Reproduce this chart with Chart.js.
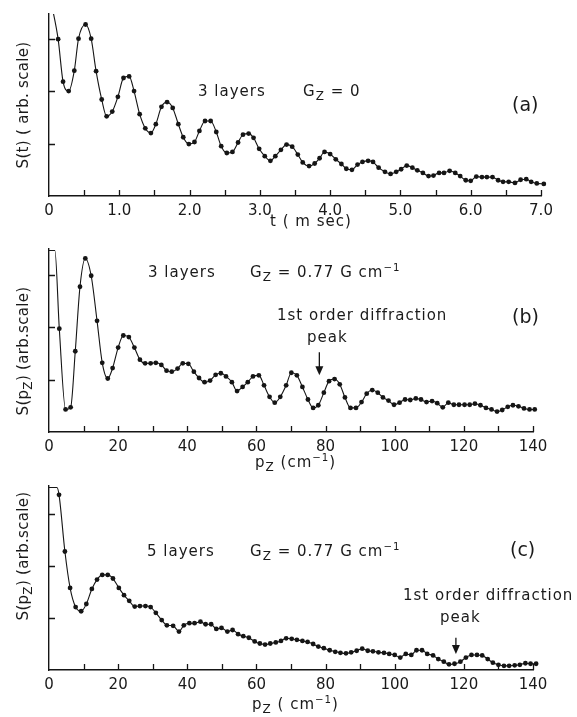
<!DOCTYPE html>
<html>
<head>
<meta charset="utf-8">
<title>S(t) and S(pz) – 3 and 5 layers</title>
<script src="https://cdn.jsdelivr.net/npm/chart.js@4.4.1/dist/chart.umd.min.js"></script>
<style>
  html, body { margin:0; padding:0; background:#fff; }
  #page { position:relative; width:577px; height:717px; overflow:hidden; font-family:'DejaVu Sans', sans-serif; color:#1a1a1a; }
  canvas { position:absolute; left:0; }
  .t { position:absolute; font-size:15px; line-height:15px; white-space:nowrap; letter-spacing:1px; }
  .big { font-size:19px; line-height:19px; letter-spacing:0; }
  .sub { font-size:0.8em; position:relative; top:0.35em; }
  .sup { font-size:0.68em; position:relative; top:-0.55em; }
  .rot { position:absolute; width:200px; height:18px; line-height:18px; font-size:15px; text-align:center; white-space:nowrap; letter-spacing:0.3px; transform:rotate(-90deg); }
</style>
</head>
<body>
<div id="page">
  <canvas id="chartA" width="577" height="240" style="top:0"></canvas>
  <canvas id="chartB" width="577" height="238" style="top:240px"></canvas>
  <canvas id="chartC" width="577" height="239" style="top:478px"></canvas>

  <!-- panel (a) -->
  <div class="rot" style="left:-77px;top:96px">S(t) ( arb. scale)</div>
  <div class="t" style="left:198px;top:84px">3 layers</div>
  <div class="t" style="left:303px;top:84px">G<span class="sub">Z</span> = 0</div>
  <div class="t big" style="left:512px;top:95px">(a)</div>
  <div class="t" style="left:270px;top:214px">t ( m sec)</div>

  <!-- panel (b) -->
  <div class="rot" style="left:-77px;top:342px">S(p<span class="sub">Z</span>) (arb.scale)</div>
  <div class="t" style="left:148px;top:265px">3 layers</div>
  <div class="t" style="left:250px;top:265px">G<span class="sub">Z</span> = 0.77 G cm<span class="sup">−1</span></div>
  <div class="t" style="left:277px;top:308px">1st order diffraction</div>
  <div class="t" style="left:307px;top:330px">peak</div>
  <div class="t big" style="left:512px;top:307px">(b)</div>
  <div class="t" style="left:255px;top:455px">p<span class="sub">Z</span> (cm<span class="sup">−1</span>)</div>

  <!-- panel (c) -->
  <div class="rot" style="left:-77px;top:547px">S(p<span class="sub">Z</span>) (arb.scale)</div>
  <div class="t" style="left:147px;top:544px">5 layers</div>
  <div class="t" style="left:250px;top:544px">G<span class="sub">Z</span> = 0.77 G cm<span class="sup">−1</span></div>
  <div class="t big" style="left:510px;top:540px">(c)</div>
  <div class="t" style="left:403px;top:588px">1st order diffraction</div>
  <div class="t" style="left:440px;top:610px">peak</div>
  <div class="t" style="left:252px;top:697px">p<span class="sub">Z</span> ( cm<span class="sup">−1</span>)</div>
</div>

<script>
/* ============ data ============ */
// (a) 3 layers, Gz = 0 : S(t) vs t (ms)
const leadTimeA   = [0.03];
const leadSignalA = [3.70];
const timeA = [0.13,0.20,0.28,0.36,0.42,0.52,0.60,0.67,0.75,0.82,0.90,0.98,1.06,1.14,1.21,1.29,1.37,1.45,1.52,1.60,
  1.68,1.76,1.84,1.91,1.99,2.07,2.14,2.22,2.30,2.38,2.45,2.53,2.61,2.69,2.76,2.84,2.91,2.99,3.07,3.15,
  3.22,3.30,3.38,3.46,3.54,3.61,3.70,3.78,3.85,3.92,4.00,4.08,4.16,4.23,4.31,4.39,4.46,4.54,4.61,4.69,
  4.78,4.86,4.94,5.01,5.09,5.17,5.24,5.32,5.40,5.47,5.55,5.62,5.70,5.78,5.85,5.93,6.00,6.08,6.16,6.23,
  6.31,6.39,6.46,6.54,6.63,6.71,6.79,6.86,6.94,7.04];
const signalA = [2.99,2.18,2.00,2.39,3.00,3.27,3.00,2.38,1.84,1.52,1.61,1.89,2.25,2.28,2.00,1.56,1.29,1.20,1.37,1.70,
  1.79,1.68,1.37,1.12,0.99,1.03,1.24,1.43,1.43,1.22,0.95,0.82,0.84,1.02,1.17,1.19,1.11,0.90,0.76,0.67,
  0.76,0.88,0.98,0.94,0.79,0.64,0.57,0.62,0.72,0.84,0.80,0.70,0.61,0.52,0.50,0.60,0.65,0.67,0.65,0.54,
  0.46,0.42,0.46,0.51,0.58,0.54,0.49,0.44,0.38,0.39,0.44,0.44,0.48,0.44,0.38,0.30,0.29,0.37,0.36,0.36,
  0.36,0.30,0.27,0.27,0.25,0.31,0.32,0.27,0.24,0.23];
const xTickLabelsA = ['0','1.0','2.0','3.0','4.0','5.0','6.0','7.0'];

// (b) 3 layers, Gz = 0.77 G/cm : S(pz) vs pz (1/cm)
const leadPzB     = [0.0, 1.7];
const leadSignalB = [3.46, 3.46];
const pzB = [2.98,4.8,6.26,7.6,8.96,10.5,12.2,13.9,15.4,17.0,18.4,20.0,21.5,23.1,24.7,26.3,27.8,29.4,30.9,32.5,
  34.0,35.5,37.2,38.7,40.3,41.9,43.4,45.0,46.6,48.2,49.7,51.2,52.9,54.4,56.0,57.5,59.0,60.7,62.2,63.8,
  65.3,66.9,68.6,70.1,71.7,73.3,74.9,76.4,77.9,79.5,81.0,82.6,84.1,85.6,87.2,88.8,90.4,91.9,93.5,95.1,
  96.6,98.2,99.8,101.4,103.0,104.5,106.1,107.6,109.2,110.8,112.3,113.9,115.5,117.1,118.6,120.2,121.7,123.2,124.8,126.4,
  128.0,129.6,131.1,132.7,134.2,135.8,137.4,139.0,140.5,142.1,143.8];
const signalB = [1.97,0.43,0.47,1.54,2.77,3.31,2.98,2.12,1.32,1.02,1.22,1.61,1.84,1.81,1.61,1.38,1.31,1.31,1.32,1.28,
  1.17,1.15,1.21,1.31,1.30,1.15,1.03,0.95,0.98,1.09,1.12,1.06,0.95,0.78,0.86,0.95,1.06,1.08,0.89,0.67,
  0.56,0.67,0.89,1.13,1.08,0.86,0.62,0.46,0.51,0.75,0.97,1.01,0.91,0.66,0.46,0.46,0.57,0.73,0.80,0.75,
  0.66,0.60,0.52,0.56,0.62,0.61,0.64,0.62,0.57,0.59,0.55,0.47,0.56,0.52,0.52,0.52,0.52,0.54,0.51,0.46,
  0.43,0.39,0.42,0.48,0.51,0.49,0.45,0.43,0.43,0.43,0.43];

// (c) 5 layers, Gz = 0.77 G/cm
const leadPzC     = [0.0, 2.3];
const leadSignalC = [3.51, 3.51];
const pzC = [2.9,4.6,6.1,7.7,9.3,10.8,12.4,13.9,15.4,17.0,18.5,20.2,21.7,23.2,24.8,26.3,27.9,29.4,30.9,32.6,
  34.1,35.9,37.6,39.0,40.6,42.1,43.8,45.3,46.9,48.4,49.9,51.6,53.1,54.7,56.2,57.8,59.5,61.0,62.5,64.0,
  65.6,67.1,68.6,70.2,71.7,73.3,74.8,76.4,77.9,79.5,81.2,82.8,84.3,85.9,87.4,89.0,90.6,92.2,93.7,95.3,
  96.9,98.4,100.0,101.6,103.2,104.8,106.3,107.9,109.4,111.1,112.6,114.2,115.7,117.3,119.0,120.6,122.2,123.8,125.3,126.9,
  128.4,130.0,131.6,133.1,134.7,136.2,137.8,139.3,140.9,142.4,143.9];
const signalC = [3.37,2.28,1.58,1.21,1.13,1.27,1.56,1.74,1.83,1.83,1.76,1.58,1.44,1.33,1.22,1.23,1.23,1.21,1.10,0.96,
  0.86,0.85,0.74,0.86,0.90,0.90,0.93,0.88,0.88,0.79,0.81,0.74,0.77,0.69,0.65,0.62,0.55,0.51,0.49,0.51,
  0.53,0.56,0.61,0.60,0.58,0.56,0.54,0.50,0.45,0.42,0.38,0.35,0.33,0.32,0.34,0.37,0.41,0.37,0.36,0.34,
  0.33,0.31,0.29,0.24,0.31,0.29,0.38,0.38,0.31,0.28,0.21,0.16,0.11,0.12,0.16,0.24,0.29,0.29,0.28,0.21,
  0.14,0.10,0.08,0.08,0.09,0.10,0.13,0.12,0.12,0.10,0.09];
const xTickLabelsPz = ['0','20','40','60','80','100','120','140'];

// arrows "1st order diffraction peak": [pz, from, to]
const peakArrowB = [78.2, 1.52, 1.08];
const peakArrowC = [117.7, 0.62, 0.31];

/* ============ helpers ============ */
const INK = '#151515';
Chart.defaults.font.family = "'DejaVu Sans', sans-serif";
Chart.defaults.font.size = 15;
Chart.defaults.color = '#1a1a1a';

function pts(xs, ys){ return xs.map((x,i)=>({ x, y: ys[i] })); }

// tick marks drawn inward from the axes, like the original
const inwardTicks = {
  id:'inwardTicks',
  afterDatasetsDraw(chart){
    const { ctx, chartArea:a, scales:{ x, y } } = chart;
    ctx.save();
    ctx.strokeStyle = INK; ctx.lineWidth = 1.3;
    ctx.beginPath();
    x.ticks.forEach(t=>{
      if(t.value <= 0 || t.value > x.max) return;
      const px = Math.round(x.getPixelForValue(t.value)) + 0.5;
      ctx.moveTo(px, a.bottom); ctx.lineTo(px, a.bottom - 6);
    });
    y.ticks.forEach(t=>{
      if(t.value <= 0 || !Number.isInteger(t.value)) return;
      const py = Math.round(y.getPixelForValue(t.value)) + 0.5;
      ctx.moveTo(a.left, py); ctx.lineTo(a.left + 6, py);
    });
    ctx.stroke();
    ctx.restore();
  }
};

const peakArrow = {
  id:'peakArrow',
  afterDatasetsDraw(chart, args, opts){
    if(!opts || !opts.at) return;
    const [v, from, to] = opts.at;
    const { ctx, scales:{ x, y } } = chart;
    const px = x.getPixelForValue(v), y0 = y.getPixelForValue(from), y1 = y.getPixelForValue(to);
    ctx.save();
    ctx.strokeStyle = INK; ctx.fillStyle = INK; ctx.lineWidth = 1.3;
    ctx.beginPath(); ctx.moveTo(px, y0); ctx.lineTo(px, y1 - 6); ctx.stroke();
    ctx.beginPath(); ctx.moveTo(px - 4, y1 - 9); ctx.lineTo(px + 4, y1 - 9); ctx.lineTo(px, y1); ctx.closePath(); ctx.fill();
    ctx.restore();
  }
};

function makeChart(id, { leadX, leadY, xs, ys, xMax, yMax, step, labels, labelEvery, top, right, axisH, arrow }){
  const nLead = leadX.length;
  return new Chart(document.getElementById(id), {
    type:'line',
    data:{
      datasets:[{
        data: pts(leadX.concat(xs), leadY.concat(ys)),
        borderColor: INK,
        borderWidth: 1.1,
        backgroundColor: INK,
        pointBackgroundColor: INK,
        pointBorderWidth: 0,
        pointRadius: c => c.dataIndex < nLead ? 0 : 2.4,
        cubicInterpolationMode: 'monotone',
        clip: { left: 0, top: 0, right: 20, bottom: 10 }
      }]
    },
    options:{
      responsive:false,
      animation:false,
      devicePixelRatio:1,
      layout:{ padding:{ top, right, left:0, bottom:0 } },
      plugins:{ legend:{ display:false }, tooltip:{ enabled:false }, peakArrow:{ at: arrow } },
      scales:{
        x:{
          type:'linear', min:0, max:xMax,
          grid:{ display:false, drawTicks:false },
          border:{ display:true, color:INK, width:1.4 },
          ticks:{
            stepSize: step, autoSkip:false, maxRotation:0, padding:6, color:'#1a1a1a',
            callback: v => {
              const k = v / labelEvery;
              return Math.abs(k - Math.round(k)) < 1e-6 ? (labels[Math.round(k)] ?? '') : '';
            }
          },
          afterFit: s => { s.height = axisH; }
        },
        y:{
          min:0, max:yMax,
          grid:{ display:false, drawTicks:false },
          border:{ display:true, color:INK, width:1.4 },
          ticks:{ display:false, stepSize:1 },
          afterFit: s => { s.width = 49; }
        }
      }
    },
    plugins:[inwardTicks, peakArrow]
  });
}

makeChart('chartA', { leadX:leadTimeA, leadY:leadSignalA, xs:timeA, ys:signalA,
  xMax:7.0, yMax:3.47, step:0.5, labels:xTickLabelsA, labelEvery:1,
  top:14, right:36, axisH:44, arrow:null });

makeChart('chartB', { leadX:leadPzB, leadY:leadSignalB, xs:pzB, ys:signalB,
  xMax:140, yMax:3.49, step:10, labels:xTickLabelsPz, labelEvery:20,
  top:9, right:44, axisH:46, arrow:peakArrowB });

makeChart('chartC', { leadX:leadPzC, leadY:leadSignalC, xs:pzC, ys:signalC,
  xMax:140, yMax:3.54, step:10, labels:xTickLabelsPz, labelEvery:20,
  top:8, right:44, axisH:47, arrow:peakArrowC });
</script>
</body>
</html>
